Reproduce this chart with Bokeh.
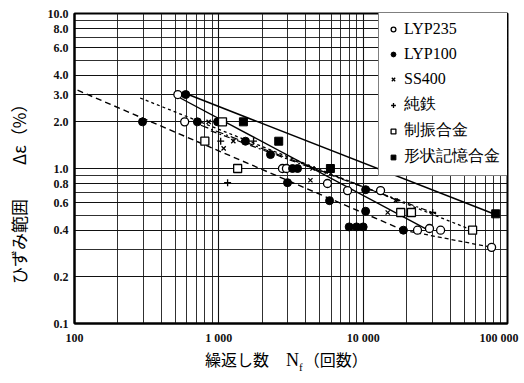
import numpy as np
from bokeh.plotting import figure
from bokeh.layouts import column
from bokeh.models import FixedTicker, Legend, LegendItem, Range1d, Div
from bokeh.embed import file_html
from bokeh.resources import INLINE

# Axis ticks and labels
x_ticks = [100, 1000, 10000, 100000]
x_tick_labels = ["100", "1 000", "10 000", "100 000\u00a0\u00a0"]
y_ticks = [0.1, 0.2, 0.4, 0.6, 0.8, 1.0, 2.0, 3.0, 4.0, 6.0, 8.0, 10.0]
y_tick_labels = ["0.1", "0.2", "0.4", "0.6", "0.8", "1.0", "2.0", "3.0", "4.0", "6.0", "8.0", "10.0"]

# Test results: cycles to failure N_f and strain range (%)
lyp235_n = [520, 580, 2760, 2940, 5660, 7800, 13200, 23800, 28800, 34400, 77600]
lyp235_e = [3.0, 2.0, 1.0, 1.0, 0.80, 0.72, 0.72, 0.40, 0.41, 0.40, 0.31]

lyp100_n = [296, 590, 710, 980, 1530, 2280, 2990, 3240, 3510, 5850, 8000, 9000, 10000, 10400, 10400, 19000]
lyp100_e = [2.0, 3.0, 2.0, 2.0, 1.5, 1.23, 0.81, 1.0, 1.0, 0.62, 0.42, 0.42, 0.42, 0.73, 0.53, 0.40]

ss400_n = [850, 1080, 1260, 4310, 4460, 14800, 16800]
ss400_e = [2.0, 1.35, 1.5, 0.84, 1.0, 0.52, 0.62]

iron_n = [1030, 1150, 1740, 30300]
iron_e = [1.5, 0.81, 1.5, 0.52]

damp_n = [800, 1060, 1350, 18200, 21600, 57300]
damp_e = [1.5, 2.0, 1.0, 0.52, 0.52, 0.40]

sma_n = [1480, 2600, 5930, 82800]
sma_e = [2.0, 1.5, 1.0, 0.51]

# Fitted fatigue lines (end points)
sma_fit_n, sma_fit_e = [560, 85000], [3.1, 0.50]
lyp235_fit_n, lyp235_fit_e = [540, 27000], [2.85, 0.41]
lyp235_tail_n, lyp235_tail_e = [19000, 77600], [0.40, 0.31]
lyp100_fit_n, lyp100_fit_e = [105, 19000], [3.2, 0.40]
damp_fit_n, damp_fit_e = [285, 57000], [2.85, 0.40]
ss400_fit_n, ss400_fit_e = [750, 18000], [1.9, 0.62]
iron_fit_n, iron_fit_e = [880, 32000], [1.75, 0.51]

SERIF = "Liberation Serif"
CJK = "Noto Sans CJK JP"

p = figure(frame_width=433, frame_height=310, x_axis_type="log", y_axis_type="log",
           x_range=Range1d(100, 100000), y_range=Range1d(0.1, 10),
           output_backend="svg", toolbar_location=None,
           min_border_left=74, min_border_right=17, min_border_top=13, min_border_bottom=23)
p.background_fill_color = "white"
p.border_fill_color = "white"
p.outline_line_color = "black"
p.outline_line_width = 2

minor_x = [m * 10 ** d for d in range(2, 5) for m in range(2, 10)]
minor_y = [m * 10 ** d for d in range(-1, 1) for m in range(2, 10)]
p.xaxis.ticker = FixedTicker(ticks=x_ticks, minor_ticks=minor_x)
p.yaxis.ticker = FixedTicker(ticks=y_ticks, minor_ticks=minor_y)
p.xaxis.major_label_overrides = {t: s for t, s in zip(x_ticks, x_tick_labels)}
p.yaxis.major_label_overrides = {t: s for t, s in zip(y_ticks, y_tick_labels)}

for ax in (p.xaxis, p.yaxis):
    ax.major_tick_line_color = None
    ax.minor_tick_line_color = None
    ax.major_tick_out = 0
    ax.minor_tick_out = 0
    ax.major_tick_in = 0
    ax.minor_tick_in = 0
    ax.axis_line_color = "black"
    ax.axis_line_width = 2
    ax.major_label_text_font = SERIF
    ax.major_label_text_font_size = "12px"
    ax.major_label_text_font_style = "bold"
    ax.major_label_text_color = "#111111"
p.xaxis.major_label_standoff = 7
p.yaxis.major_label_standoff = 6

# Vertical strain-range title, padded at its end so it sits a little low
p.yaxis.axis_label = "ひずみ範囲\u3000\u3000Δε（%）\u3000\u3000\u3000"
p.yaxis.axis_label_text_font = CJK
p.yaxis.axis_label_text_font_size = "17px"
p.yaxis.axis_label_text_font_style = "normal"
p.yaxis.axis_label_text_color = "black"
p.yaxis.axis_label_standoff = 14

for g in (p.xgrid, p.ygrid):
    g.grid_line_color = "#111111"
    g.grid_line_width = 1.1
    g.minor_grid_line_color = "#1a1a1a"
    g.minor_grid_line_width = 1
    g.minor_grid_line_alpha = 0.9

# Fitted lines
p.line(sma_fit_n, sma_fit_e, line_color="black", line_width=1.6)
p.line(lyp235_fit_n, lyp235_fit_e, line_color="black", line_width=1.4)
p.line(lyp235_tail_n, lyp235_tail_e, line_color="black", line_width=1.3, line_dash="4 3")
p.line(lyp100_fit_n, lyp100_fit_e, line_color="black", line_width=1.4, line_dash="6 4")
p.line(damp_fit_n, damp_fit_e, line_color="black", line_width=1.3, line_dash="3 3")
p.line(ss400_fit_n, ss400_fit_e, line_color="black", line_width=1.2, line_dash="8 3 2 3")
p.line(iron_fit_n, iron_fit_e, line_color="black", line_width=1.2, line_dash="6 3 2 3")

# Data points
r1 = p.scatter(lyp235_n, lyp235_e, marker="circle", size=8, fill_color="white", line_color="black", line_width=1.3)
r2 = p.scatter(lyp100_n, lyp100_e, marker="circle", size=8, fill_color="black", line_color="black")
r3 = p.scatter(ss400_n, ss400_e, marker="x", size=6, line_color="black", line_width=1.3)
r4 = p.scatter(iron_n, iron_e, marker="cross", size=7, line_color="black", line_width=1.3)
r5 = p.scatter(damp_n, damp_e, marker="square", size=8, fill_color="white", line_color="black", line_width=1.3)
r6 = p.scatter(sma_n, sma_e, marker="square", size=8, fill_color="black", line_color="black")

legend = Legend(items=[
    LegendItem(label="LYP235", renderers=[r1]),
    LegendItem(label="LYP100", renderers=[r2]),
    LegendItem(label="SS400", renderers=[r3]),
    LegendItem(label="純鉄", renderers=[r4]),
    LegendItem(label="制振合金", renderers=[r5]),
    LegendItem(label="形状記憶合金", renderers=[r6]),
], location=(304, 147))
legend.label_text_font = SERIF
legend.label_text_font_size = "16px"
legend.label_text_color = "black"
legend.glyph_width = 12
legend.glyph_height = 20
legend.label_height = 20
legend.label_width = 88
legend.label_standoff = 5
legend.spacing = 5
legend.padding = 8
legend.margin = 0
legend.border_line_color = "black"
legend.border_line_width = 1.5
legend.background_fill_color = "white"
legend.background_fill_alpha = 1
p.add_layout(legend)

# Horizontal title with the subscript in N_f
x_title = Div(
    text=(
        '<div style="position:relative; left:205px; top:1px; white-space:nowrap; color:#000;">'
        '<span style="font-family:\'Noto Sans CJK JP\'; font-size:16px;">繰返し数</span>'
        '<span style="font-family:\'Liberation Serif\'; font-size:18px; margin-left:17px;">N'
        '<sub style="font-size:11px;">f</sub></span>'
        '<span style="font-family:\'Noto Sans CJK JP\'; font-size:16px; margin-left:1px;">（回数）</span>'
        '</div>'
    ),
    width=524, height=35, margin=0,
)

layout = column(p, x_title, spacing=0)
open("out.html", "w").write(file_html(layout, INLINE))
